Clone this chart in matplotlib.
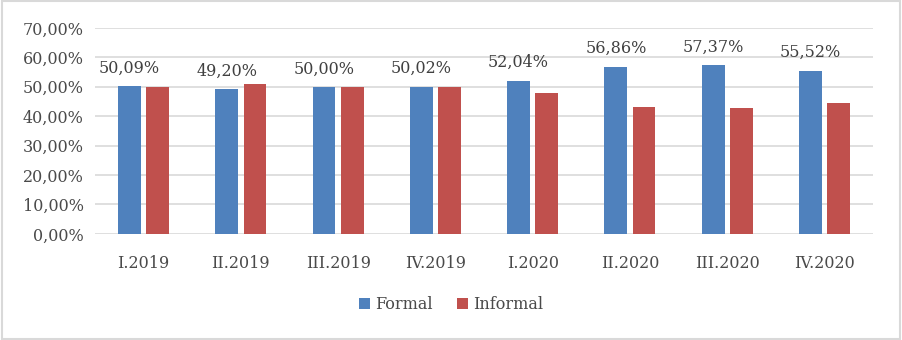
import matplotlib
matplotlib.use("Agg")
import matplotlib.pyplot as plt
import numpy as np
from matplotlib.patches import Rectangle

quarters = ['I.2019', 'II.2019', 'III.2019', 'IV.2019',
            'I.2020', 'II.2020', 'III.2020', 'IV.2020']
formal = [50.09, 49.20, 50.00, 50.02, 52.04, 56.86, 57.37, 55.52]
informal = [49.91, 50.80, 50.00, 49.98, 47.96, 43.14, 42.63, 44.48]

plt.rcParams['font.family'] = ['DejaVu Serif']

fig = plt.figure(figsize=(9.02, 3.40), dpi=100)
ax = fig.add_axes([0.1053, 0.312, 0.8627, 0.606])

x = np.arange(len(quarters))
w = 0.235
ax.bar(x - 0.145, formal, w, color='#4F81BD', label='Formal', zorder=3)
ax.bar(x + 0.145, informal, w, color='#C0504D', label='Informal', zorder=3)

for xi, v in zip(x, formal):
    ax.text(xi - 0.145, v + 3.2, f'{v:.2f}%'.replace('.', ','),
            ha='center', va='bottom', fontsize=11.5, color='#404040')

ax.set_xlim(-0.5, 7.5)
ax.set_ylim(0, 70)
ax.set_yticks(range(0, 71, 10))
ax.set_yticklabels([f'{t:.2f}%'.replace('.', ',') for t in range(0, 71, 10)])
ax.set_xticks(x)
ax.set_xticklabels(quarters)
ax.tick_params(length=0, labelsize=11.5, colors='#4a4a4a')
ax.tick_params(axis='x', pad=15)
ax.tick_params(axis='y', pad=8)
ax.grid(axis='y', color='#D9D9D9', linewidth=1.2, zorder=0)
for s in ax.spines.values():
    s.set_visible(False)

fig.legend(loc='center', bbox_to_anchor=(0.5, 0.105), ncol=2, frameon=False,
           fontsize=11.5, handlelength=0.7, handleheight=0.7, handletextpad=0.3,
           columnspacing=1.5, labelcolor='#4a4a4a')

fig.patches.append(Rectangle((0.002, 0.003), 0.996, 0.994, transform=fig.transFigure,
                             fill=False, edgecolor='#D9D9D9', linewidth=1.5))

fig.savefig('out.png', dpi=100)
